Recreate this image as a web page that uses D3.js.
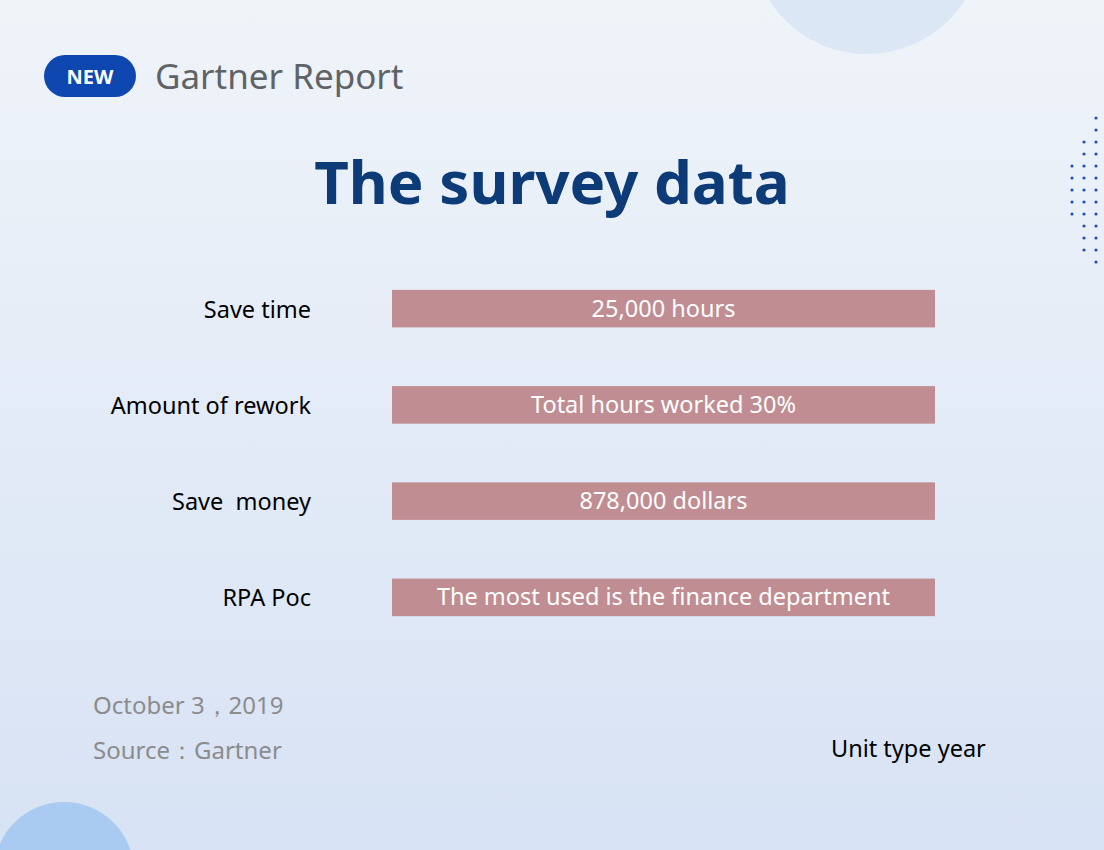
<!DOCTYPE html>
<html><head><meta charset="utf-8">
<script src="https://cdn.jsdelivr.net/npm/d3@7"></script>
<style>body{margin:0;}svg{display:block;font-family:"Noto Sans","Open Sans",sans-serif;}text{white-space:pre;}</style>
</head><body><svg width="1104" height="850"></svg>
<script>
const categories = ["Save time", "Amount of rework", "Save  money", "RPA Poc"];
const barTexts = ["25,000 hours", "Total hours worked 30%", "878,000 dollars", "The most used is the finance department"];
const values = [1, 1, 1, 1];

const svg = d3.select("svg");
const defs = svg.append("defs");
const grad = defs.append("linearGradient").attr("id", "bg").attr("x1", 0).attr("y1", 0).attr("x2", 0).attr("y2", 1);
grad.append("stop").attr("offset", "0%").attr("stop-color", "#eff4f9");
grad.append("stop").attr("offset", "100%").attr("stop-color", "#d7e2f4");
svg.append("rect").attr("width", 1104).attr("height", 850).attr("fill", "url(#bg)");

// decorations
svg.append("circle").attr("cx", 867).attr("cy", -62).attr("r", 116).attr("fill", "#dce7f5");
svg.append("circle").attr("cx", 64).attr("cy", 872).attr("r", 70).attr("fill", "#a9cbf1");
const dotCols = [[1072, 166, 214], [1084, 142, 250], [1096, 118, 262]];
dotCols.forEach(([x, y0, y1]) => {
  for (let y = y0; y <= y1 + 0.1; y += 12) {
    svg.append("circle").attr("cx", x).attr("cy", y).attr("r", 1.6).attr("fill", "#1d4fc0");
  }
});

// header
svg.append("rect").attr("x", 44).attr("y", 55).attr("width", 92).attr("height", 42).attr("rx", 21).attr("fill", "#0f47b0");
svg.append("text").attr("x", 90).attr("y", 84).attr("text-anchor", "middle").attr("fill", "#fff")
  .style("font-size", "20px").style("font-weight", "bold").text("NEW");
svg.append("text").attr("x", 155).attr("y", 89).attr("fill", "#5f6368").style("font-size", "35px").text("Gartner Report");

svg.append("text").attr("x", 552).attr("y", 204).attr("text-anchor", "middle").attr("fill", "#0d3b78")
  .style("font-size", "60px").style("font-weight", "bold").text("The survey data");

// chart
const x = d3.scaleLinear().domain([0, 1]).range([392, 935]);
const y = d3.scaleBand().domain(categories).range([261, 645]).paddingInner(0.61).paddingOuter(0.3);

svg.append("g").selectAll("rect").data(categories).join("rect")
  .attr("x", x(0)).attr("y", d => y(d)).attr("width", (d, i) => x(values[i]) - x(0))
  .attr("height", y.bandwidth()).attr("fill", "#bf8d92");

svg.append("g").selectAll("text").data(categories).join("text")
  .attr("x", 311).attr("y", d => y(d) + y.bandwidth() / 2 + 9).attr("text-anchor", "end")
  .attr("fill", "#000").style("font-size", "23.5px").text(d => d);

svg.append("g").selectAll("text").data(categories).join("text")
  .attr("x", (d, i) => (x(0) + x(values[i])) / 2).attr("y", d => y(d) + y.bandwidth() / 2 + 8)
  .attr("text-anchor", "middle").attr("fill", "#fff").style("font-size", "23.5px").text((d, i) => barTexts[i]);

// footer
svg.append("text").attr("x", 93).attr("y", 714).attr("fill", "#8c8c8c").style("font-size", "24px").text("October 3，2019");
svg.append("text").attr("x", 93).attr("y", 759).attr("fill", "#8c8c8c").style("font-size", "24px").text("Source：Gartner");
svg.append("text").attr("x", 831).attr("y", 757).attr("fill", "#000").style("font-size", "23.5px").text("Unit type year");
</script></body></html>
